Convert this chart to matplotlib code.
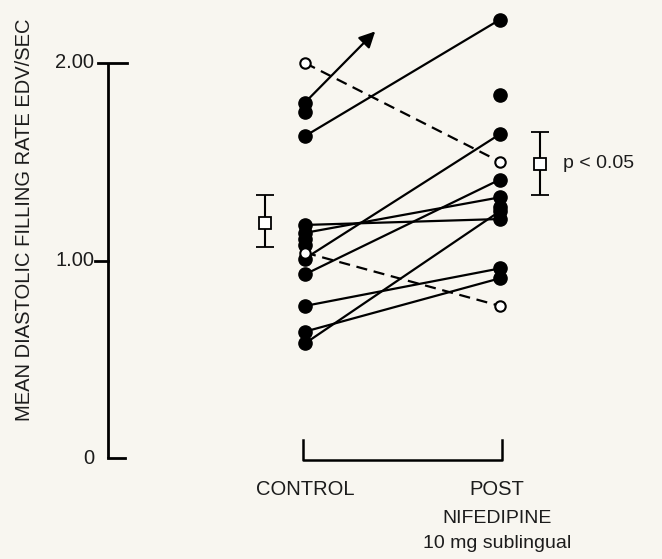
import matplotlib
matplotlib.use('Agg')
import matplotlib.pyplot as plt
import numpy as np

plt.rcParams['font.family'] = ['Liberation Sans', 'DejaVu Sans']

# patients joined by solid lines (control -> post nifedipine)
solid_control = [1.63, 1.18, 1.14, 1.01, 0.93, 0.77, 0.64, 0.58]
solid_post = [2.22, 1.21, 1.32, 1.64, 1.41, 0.96, 0.91, 1.25]
# open circles joined by dashed lines
dashed_control = [2.00, 1.04]
dashed_post = [1.50, 0.77]
# filled points with no line of their own
extra_control = [1.80, 1.75, 1.11, 1.08]
extra_post = [1.84, 1.27]
# patient off the scale (arrow)
arrow_start = 1.80
arrow_end = (0.36, 2.16)

# mean +/- SE
mean_x = [-0.205, 1.205]
mean_vals = [1.19, 1.49]
se_low = [1.07, 1.33]
se_high = [1.33, 1.65]

y_ticks = [0, 1.0, 2.0]
y_ticklabels = ['0', '1.00', '2.00']

bg = '#f8f6f0'
ink = '#1c1c1c'
fig = plt.figure(figsize=(6.62, 5.59), dpi=100, facecolor=bg)
ax = fig.add_axes([0, 0, 1, 1])
ax.set_facecolor(bg)
ax.set_xlim(-305 / 195, (662 - 305) / 195)
ax.set_ylim(-101 / 197.5, 458 / 197.5)
ax.axis('off')

# y axis drawn by hand
ax_x = -1.01
ax.plot([ax_x, ax_x], [0, 2.0], color='black', lw=2, solid_capstyle='butt')
ax.plot([ax_x - 0.05, ax_x + 0.098], [2.0, 2.0], color='black', lw=2)
ax.plot([ax_x - 0.066, ax_x], [1.0, 1.0], color='black', lw=2)
ax.plot([ax_x, ax_x + 0.088], [0, 0], color='black', lw=2)
for t, lab in zip(y_ticks, y_ticklabels):
    ax.text(ax_x - 0.07, t, lab, ha='right', va='center', fontsize=14.5,
            color=ink)
ax.text(-1.436, 1.205, 'MEAN DIASTOLIC FILLING RATE EDV/SEC', rotation=90,
        ha='center', va='center', fontsize=14.5, color=ink)

# data
for c, p in zip(solid_control, solid_post):
    ax.plot([0, 1], [c, p], color='black', lw=1.6, zorder=2)
for c, p in zip(dashed_control, dashed_post):
    ax.plot([0, 1], [c, p], color='black', lw=1.6, ls=(0, (5, 3)), zorder=2)

filled_c = solid_control + extra_control
filled_p = solid_post + extra_post
ax.plot(np.zeros(len(filled_c)), filled_c, 'o', color='black', ms=9.5, zorder=3)
ax.plot(np.ones(len(filled_p)), filled_p, 'o', color='black', ms=9.5, zorder=3)
ax.plot(np.zeros(len(dashed_control)), dashed_control, 'o', mfc='white',
        mec='black', mew=1.5, ms=7.5, zorder=4)
ax.plot(np.ones(len(dashed_post)), dashed_post, 'o', mfc='white',
        mec='black', mew=1.5, ms=7.5, zorder=4)

ax.annotate('', xy=arrow_end, xytext=(0, arrow_start),
            arrowprops=dict(arrowstyle='-|>', mutation_scale=24, lw=1.6,
                            color='black', shrinkA=0, shrinkB=0))

# means
for mx, m, lo, hi in zip(mean_x, mean_vals, se_low, se_high):
    ax.errorbar([mx], [m], yerr=[[m - lo], [hi - m]], fmt='s', ms=8.5,
                mfc='white', mec='black', mew=1.3, ecolor='black',
                elinewidth=1.5, capsize=6.5, capthick=1.5, zorder=5)
ax.text(1.323, mean_vals[1], 'p < 0.05', ha='left', va='center', fontsize=14,
        color=ink)

# bracket
ax.plot([-0.01, -0.01, 1.01, 1.01], [0.09, -0.01, -0.01, 0.09],
        color='black', lw=1.8)
ax.text(0, -0.188, 'CONTROL', ha='center', va='baseline', fontsize=14.5,
        color=ink)
ax.text(0.985, -0.188, 'POST', ha='center', va='baseline', fontsize=14.5,
        color=ink)
ax.text(0.985, -0.329, 'NIFEDIPINE', ha='center', va='baseline', fontsize=14,
        color=ink)
ax.text(0.985, -0.456, '10 mg sublingual', ha='center', va='baseline',
        fontsize=14, color=ink)

fig.savefig('out.png', dpi=100, facecolor=bg)
